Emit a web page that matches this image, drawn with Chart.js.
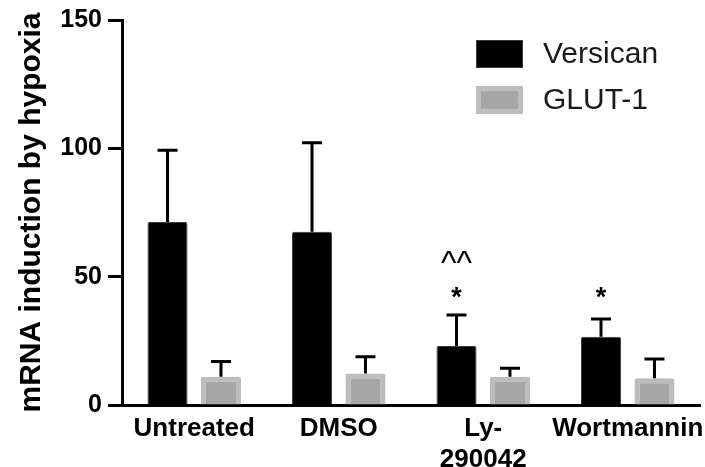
<!DOCTYPE html>
<html lang="en">
<head>
  <meta charset="UTF-8">
  <title>mRNA induction by hypoxia</title>
  <script src="https://cdn.jsdelivr.net/npm/chart.js"></script>
  <style>
    html, body { margin: 0; padding: 0; background: #fff; }
    .chart-container { position: relative; width: 705px; height: 467px; }
  </style>
</head>
<body>
  <div class="chart-container">
    <canvas id="hypoxiaChart"></canvas>
  </div>
  <script>
    // Data
    const categories = ['Untreated', 'DMSO', ['Ly-', '290042'], 'Wortmannin'];
    const versican = [71.3, 67.5, 23.0, 26.6];
    const versicanErr = [28.0, 34.7, 12.1, 6.9];
    const glut1 = [11.0, 12.3, 11.0, 10.4];
    const glut1Err = [5.9, 6.5, 3.3, 7.5];
    const yTicks = [0, 50, 100, 150];
    const versicanMarks = [[], [], ['^^', '*'], ['*']];

    const family = "'Liberation Sans', Arial, Helvetica, sans-serif";

    // upward-only error bars with a cap
    const errorBars = {
      id: 'errorBars',
      afterDatasetsDraw(chart) {
        const ctx = chart.ctx;
        const y = chart.scales.y;
        ctx.save();
        ctx.strokeStyle = '#000';
        ctx.lineWidth = 3;
        chart.data.datasets.forEach((ds, i) => {
          chart.getDatasetMeta(i).data.forEach((bar, j) => {
            const top = y.getPixelForValue(ds.data[j] + ds.errors[j]);
            ctx.beginPath();
            ctx.moveTo(bar.x, bar.y);
            ctx.lineTo(bar.x, top);
            ctx.moveTo(bar.x - 10, top);
            ctx.lineTo(bar.x + 10, top);
            ctx.stroke();
          });
        });
        ctx.restore();
      }
    };

    // significance marks above the Versican bars
    const sigMarks = {
      id: 'sigMarks',
      afterDatasetsDraw(chart) {
        const ctx = chart.ctx;
        const y = chart.scales.y;
        const levels = [44, 58];
        ctx.save();
        ctx.fillStyle = '#000';
        ctx.textAlign = 'center';
        ctx.textBaseline = 'middle';
        chart.getDatasetMeta(0).data.forEach((bar, j) => {
          versicanMarks[j].slice().reverse().forEach((m, k) => {
            const py = y.getPixelForValue(levels[k]);
            if (m === '*') {
              ctx.font = 'bold 27px ' + family;
              ctx.fillText(m, bar.x, py + 6);
            } else {
              ctx.font = '33px ' + family;
              ctx.fillText(m, bar.x, py + 9);
            }
          });
        });
        ctx.restore();
      }
    };

    // legend drawn inside the plot, top right
    const boxLegend = {
      id: 'boxLegend',
      afterDraw(chart) {
        const ctx = chart.ctx;
        ctx.save();
        chart.data.datasets.forEach((ds, i) => {
          const x = 476, y = 40 + i * 46, w = 47, h = 28;
          const b = ds.borderWidth;
          ctx.fillStyle = ds.borderColor;
          ctx.fillRect(x, y, w, h);
          ctx.fillStyle = ds.backgroundColor;
          ctx.fillRect(x + b, y + b, w - 2 * b, h - 2 * b);
          ctx.fillStyle = '#1a1a1a';
          ctx.font = '30px ' + family;
          ctx.textAlign = 'left';
          ctx.textBaseline = 'middle';
          ctx.fillText(ds.label, 543, y + h / 2 + 1);
        });
        ctx.restore();
      }
    };

    const ctx = document.getElementById('hypoxiaChart').getContext('2d');
    new Chart(ctx, {
      type: 'bar',
      data: {
        labels: categories,
        datasets: [
          {
            label: 'Versican',
            data: versican,
            errors: versicanErr,
            backgroundColor: '#000000',
            borderColor: '#3a3a3a',
            borderWidth: 1,
            borderRadius: 2,
            categoryPercentage: 0.74,
            barPercentage: 0.75
          },
          {
            label: 'GLUT-1',
            data: glut1,
            errors: glut1Err,
            backgroundColor: '#a6a6a6',
            borderColor: '#bdbdbd',
            borderWidth: 5,
            borderRadius: 2,
            categoryPercentage: 0.74,
            barPercentage: 0.75
          }
        ]
      },
      options: {
        responsive: true,
        maintainAspectRatio: false,
        animation: false,
        layout: { padding: { top: 20, right: 5, left: 0, bottom: 0 } },
        plugins: {
          legend: { display: false },
          tooltip: { enabled: false }
        },
        scales: {
          x: {
            border: { display: true, color: '#000', width: 3 },
            grid: { drawOnChartArea: false, drawTicks: false },
            ticks: {
              color: '#000',
              font: { family: family, size: 26, weight: 'bold' },
              padding: 8,
              autoSkip: false,
              maxRotation: 0,
              minRotation: 0
            },
            afterFit: s => { s.height = 62; s.paddingLeft = 0; s.paddingRight = 0; }
          },
          y: {
            min: 0,
            max: 150,
            border: { display: true, color: '#000', width: 3 },
            grid: { drawOnChartArea: false, drawTicks: true, tickLength: 14, tickWidth: 3, color: '#000', tickColor: '#000' },
            ticks: {
              color: '#000',
              font: { family: family, size: 25, weight: 'bold' },
              padding: 6
            },
            title: {
              display: true,
              text: 'mRNA induction by hypoxia',
              color: '#000',
              font: { family: family, size: 30, weight: 'bold' },
              padding: { top: 14, bottom: 0 }
            },
            afterBuildTicks: s => { s.ticks = yTicks.map(v => ({ value: v })); },
            afterFit: s => { s.width = 122; s.paddingTop = 0; s.paddingBottom = 0; }
          }
        }
      },
      plugins: [errorBars, sigMarks, boxLegend]
    });
  </script>
</body>
</html>
